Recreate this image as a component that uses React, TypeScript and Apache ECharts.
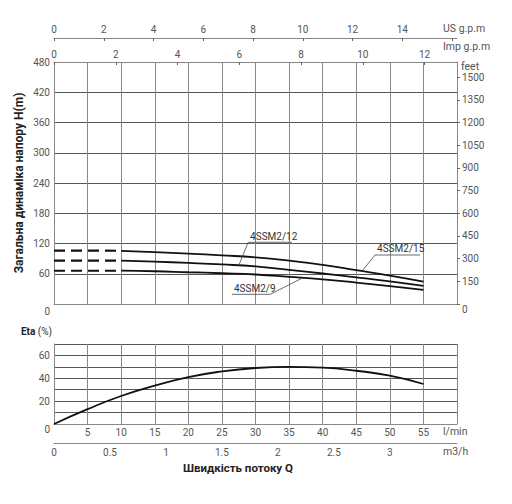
import * as echarts from "echarts"
import { useEffect, useRef } from "react"

// flow in l/min, shared by every curve
const flowLmin = [0, 5, 10, 15, 20, 25, 30, 35, 40, 45, 50, 55]
// head in metres
const head15 = [106, 106, 105.5, 103, 100, 96.5, 92.5, 86, 77.5, 67, 56.5, 44.5]
const head12 = [86, 86, 86, 84, 81.5, 78.5, 74.5, 67.5, 60.5, 53, 45, 36]
const head9 = [66, 66, 66, 65, 63, 61, 58.5, 54, 49, 42.5, 35.5, 28]
// efficiency %
const eta = [0, 13, 24.5, 33.5, 41, 46, 49, 50, 49.3, 46.6, 42.3, 35]

const pumps = [
    { name: "4SSM2/15", head: head15 },
    { name: "4SSM2/12", head: head12 },
    { name: "4SSM2/9", head: head9 },
]

// leader lines: point on curve -> start of underline -> end of underline (data coords)
const notes = [
    { text: "4SSM2/12", pts: [[27.5, 76], [28.9, 122.4], [35.4, 122.4]], at: 1 },
    { text: "4SSM2/15", pts: [[45.9, 66], [47.8, 97.2], [54.5, 97.2]], at: 1 },
    { text: "4SSM2/9", pts: [[36.9, 51], [32.2, 19.2], [26.5, 19.2]], at: 2 },
]

const usGpmMax = 16.2
const impGpmMax = 13.05
const feetMax = 1600
const m3hMax = 3.6

const FONT = "Roboto"
const LABEL = { color: "#555", fontSize: 10, fontFamily: FONT }
const VGRID = { show: true, lineStyle: { color: "#888", width: 1 } }
const HGRID = { show: true, lineStyle: { color: "#555", width: 1 } }
const AXLINE = { show: true, onZero: false, lineStyle: { color: "#888", width: 1 } }
const lowZero = (v: number) => (v === 0 ? "{z|0}" : String(v))
const upTo = (lim: number) => (v: number) => (v <= lim ? String(v) : "")

const App: React.FC = () => {
    const ref = useRef<HTMLDivElement | null>(null)

    useEffect(() => {
        document.body.style.margin = "0"
        const chart = echarts.init(ref.current!, undefined, { renderer: "svg" })

        const series: any[] = []
        pumps.forEach((p) => {
            series.push({
                type: "line",
                xAxisIndex: 0,
                yAxisIndex: 0,
                symbol: "none",
                silent: true,
                lineStyle: { color: "#111", width: 2.2, type: [11, 6] },
                data: flowLmin.slice(0, 3).map((q, i) => [q, p.head[i]]),
            })
            series.push({
                type: "line",
                xAxisIndex: 0,
                yAxisIndex: 0,
                symbol: "none",
                smooth: true,
                silent: true,
                lineStyle: { color: "#111", width: 1.8 },
                data: flowLmin.slice(2).map((q, i) => [q, p.head[i + 2]]),
            })
        })
        notes.forEach((n) => {
            series.push({
                type: "line",
                xAxisIndex: 0,
                yAxisIndex: 0,
                symbol: "circle",
                symbolSize: 0,
                silent: true,
                lineStyle: { color: "#444", width: 0.8 },
                label: { show: false },
                data: n.pts.map((pt, i) =>
                    i === n.at
                        ? {
                              value: pt,
                              label: {
                                  show: true,
                                  formatter: n.text,
                                  position: [2, -1],
                                  align: "left",
                                  verticalAlign: "bottom",
                                  color: "#333",
                                  fontSize: 10,
                                  fontFamily: FONT,
                              },
                          }
                        : { value: pt }
                ),
            })
        })
        series.push({
            type: "line",
            xAxisIndex: 3,
            yAxisIndex: 2,
            symbol: "none",
            smooth: true,
            silent: true,
            lineStyle: { color: "#111", width: 1.8 },
            data: flowLmin.map((q, i) => [q, eta[i]]),
        })

        const common = { nameMoveOverlap: false }

        chart.setOption({
            animation: false,
            backgroundColor: "#fff",
            title: {
                text: "Швидкість потоку Q",
                left: 178,
                top: 457,
                textStyle: { fontSize: 11.5, fontWeight: "bold", color: "#222", fontFamily: FONT },
            },
            grid: [
                { left: 54, top: 62, width: 403, height: 242, outerBoundsMode: "none", containLabel: false },
                { left: 54, top: 344, width: 403, height: 80, outerBoundsMode: "none", containLabel: false },
            ],
            xAxis: [
                {
                    ...common, gridIndex: 0, type: "value", position: "bottom", min: 0, max: 60, interval: 5,
                    axisLine: AXLINE, axisTick: { show: false }, axisLabel: { show: false },
                    splitLine: VGRID,
                },
                {
                    ...common, gridIndex: 0, type: "value", position: "top", min: 0, max: impGpmMax, interval: 2,
                    axisLine: AXLINE,
                    axisTick: { show: true, inside: true, length: 3, lineStyle: { color: "#666" } },
                    axisLabel: { ...LABEL, margin: 3, showMaxLabel: false, formatter: upTo(12) },
                    splitLine: { show: false },
                    name: "Imp g.p.m", nameLocation: "end", nameGap: -14,
                    nameTextStyle: { ...LABEL, fontSize: 10.5, align: "left", verticalAlign: "bottom", padding: [0, 0, 10, 0] },
                },
                {
                    ...common, gridIndex: 0, type: "value", position: "top", offset: 24, min: 0, max: usGpmMax, interval: 2,
                    axisLine: AXLINE,
                    axisTick: { show: true, inside: true, length: 3, lineStyle: { color: "#666" } },
                    axisLabel: { ...LABEL, margin: 4, showMaxLabel: false, formatter: upTo(14) },
                    splitLine: { show: false },
                    name: "US g.p.m", nameLocation: "end", nameGap: -14,
                    nameTextStyle: { ...LABEL, fontSize: 10.5, align: "left", verticalAlign: "bottom", padding: [0, 0, 4, 0] },
                },
                {
                    ...common, gridIndex: 1, type: "value", position: "bottom", min: 0, max: 60, interval: 5,
                    axisLine: AXLINE, axisTick: { show: false },
                    axisLabel: { ...LABEL, margin: 3, showMaxLabel: false, formatter: (v: number) => (v === 0 ? "" : String(v)) },
                    splitLine: VGRID,
                    name: "l/min", nameLocation: "end", nameGap: -14,
                    nameTextStyle: { ...LABEL, fontSize: 10.5, align: "left", verticalAlign: "top", padding: [2, 0, 0, 0] },
                },
                {
                    ...common, gridIndex: 1, type: "value", position: "bottom", offset: 19, min: 0, max: m3hMax, interval: 0.5,
                    axisLine: AXLINE, axisTick: { show: false },
                    axisLabel: { ...LABEL, margin: 4, showMaxLabel: false, formatter: upTo(3) },
                    splitLine: { show: false },
                    name: "m3/h", nameLocation: "end", nameGap: -14,
                    nameTextStyle: { ...LABEL, fontSize: 10.5, align: "left", verticalAlign: "top", padding: [3, 0, 0, 0] },
                },
            ],
            yAxis: [
                {
                    ...common, gridIndex: 0, type: "value", position: "left", min: 0, max: 480, interval: 60,
                    axisLine: AXLINE, axisTick: { show: false },
                    axisLabel: { ...LABEL, margin: 4, formatter: lowZero, rich: { z: { padding: [14, 0, 0, 0] } } },
                    splitLine: HGRID,
                    name: "Загальна динаміка напору H(m)", nameLocation: "middle", nameGap: 29,
                    nameTextStyle: { fontFamily: FONT, fontWeight: "bold", fontSize: 12, color: "#222" },
                },
                {
                    ...common, gridIndex: 0, type: "value", position: "right", min: 0, max: feetMax, interval: 150,
                    axisLine: AXLINE,
                    axisTick: { show: true, length: 3, lineStyle: { color: "#666" } },
                    axisLabel: { ...LABEL, margin: 5, showMaxLabel: false, formatter: lowZero, rich: { z: { padding: [10, 0, 0, 0] } } },
                    splitLine: { show: false },
                    name: "feet", nameLocation: "end", nameGap: -4,
                    nameTextStyle: { ...LABEL, fontSize: 10.5, align: "left", verticalAlign: "middle", padding: [0, 0, 0, 4] },
                },
                {
                    ...common, gridIndex: 1, type: "value", position: "left", min: 0, max: 70, interval: 10,
                    axisLine: AXLINE, axisTick: { show: false },
                    axisLabel: {
                        ...LABEL, margin: 4,
                        formatter: (v: number) => (v % 20 === 0 ? lowZero(v) : ""),
                        rich: { z: { padding: [10, 0, 0, 0] } },
                    },
                    splitLine: HGRID,
                    name: "{b|Eta} (%)", nameLocation: "end", nameGap: 13,
                    nameTextStyle: {
                        ...LABEL, color: "#333", align: "right", verticalAlign: "middle", padding: [0, 2, 0, 0],
                        rich: { b: { fontWeight: "bold", color: "#222", fontSize: 10, fontFamily: FONT } },
                    },
                },
            ],
            series,
        })

        return () => {
            chart.dispose()
        }
    }, [])

    return (
        <div
            ref={ref}
            style={{ position: "fixed", left: 0, top: 0, width: 512, height: 504, background: "#fff" }}
        ></div>
    )
}

export default App
